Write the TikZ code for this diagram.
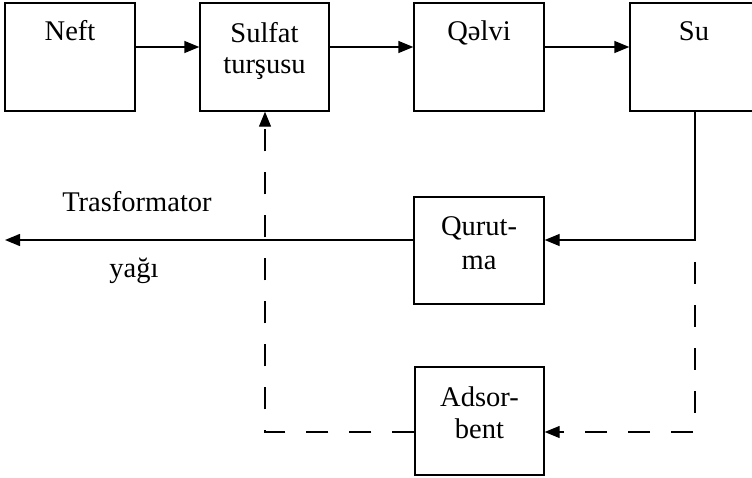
\documentclass[tikz,border=0pt]{standalone}
\usepackage{fontspec}
\setmainfont{Liberation Serif}
\usetikzlibrary{arrows.meta,calc}

\tikzset{
  box/.style={draw, line width=1.4pt, minimum width=#1, minimum height=108pt, inner sep=0pt},
  box/.default=130pt,
  lbl/.style={anchor=base, inner sep=0pt, font=\fontsize{28.5}{32}\selectfont},
  tip/.style={-{Triangle[length=15pt,width=12pt]}},
  flow/.style={line width=1.4pt, tip},
  back/.style={line width=1.3pt, dash pattern=on 22pt off 21pt, tip},
}

\begin{document}
\begin{tikzpicture}[x=1pt, y=-1pt]
  \useasboundingbox (0,0) rectangle (752,478);

  % process blocks
  \node[box] (neft) at (70,57) {};
  \node[box=129pt] (sulf) at (264.5,57) {};
  \node[box] (qelv) at (479,57) {};
  \node[box=150pt] (su) at (705,57) {};
  \node[box, minimum height=107pt] (qur) at (479,250.5) {};
  \node[box=129pt] (ads) at (479.5,421) {};

  % block captions
  \node[lbl] (tneft) at (70,41) {Neft};
  \node[lbl] (tsulf1) at (264.5,43) {Sulfat};
  \node[lbl] (tsulf2) at (264.5,74) {turşusu};
  \node[lbl] (tqelv) at (479,41) {Qəlvi};
  \node[lbl] (tsu) at (694,41) {Su};
  \node[lbl] (tqur1) at (479,236) {Qurut-};
  \node[lbl] (tqur2) at (479,270) {ma};
  \node[lbl] (tads1) at (479.5,406) {Adsor-};
  \node[lbl] (tads2) at (479.5,438) {bent};
  \node[lbl] (tout1) at (137,212) {Trasformator};
  \node[lbl] (tout2) at (134,278) {yağı};

  % routing points
  \coordinate (out) at (5,240);
  \coordinate (j1) at (695,240);
  \coordinate (d0) at (695,262);
  \coordinate (j2) at (695,432);
  \coordinate (j3) at (265,432);

  % main line
  \draw[flow] ([yshift=10pt]neft.east) -- ([yshift=10pt]sulf.west);
  \draw[flow] ([yshift=10pt]sulf.east) -- ([yshift=10pt]qelv.west);
  \draw[flow] ([yshift=10pt]qelv.east) -- ([yshift=10pt]su.west);
  \draw[flow] (su.south -| j1) -- (j1) -- (j1 -| qur.east);
  \draw[flow] (qur.west |- j1) -- (out);

  % regeneration loop
  \draw[back] (d0) -- (j2) -- (j2 -| ads.east);
  \draw[back] (j3 -| ads.west) -- (j3) -- (j3 |- sulf.south);
\end{tikzpicture}
\end{document}
